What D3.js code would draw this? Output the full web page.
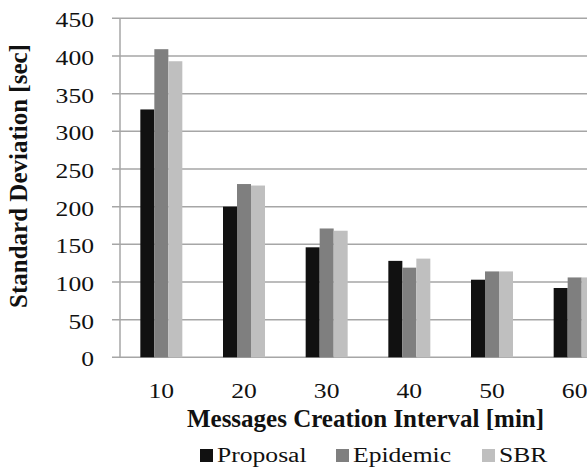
<!DOCTYPE html>
<html><head><meta charset="utf-8">
<script src="https://cdn.jsdelivr.net/npm/d3@7/dist/d3.min.js"></script>
<style>body{margin:0;background:#fff}svg{display:block}
svg text{font-family:"Liberation Serif","DejaVu Serif",serif}</style>
</head><body>
<script>
const categories = ["10","20","30","40","50","60"];
const seriesNames = ["Proposal","Epidemic","SBR"];
const proposal = [329, 200, 146, 128, 103, 92];
const epidemic = [409, 230, 171, 119, 114, 106];
const sbr = [393, 228, 168, 131, 114, 106];
const yTicks = [0,50,100,150,200,250,300,350,400,450];
const seriesValues = [proposal, epidemic, sbr];
const colors = ["#111111","#7f7f7f","#bfbfbf"];

const W = 587, H = 468;
const svg = d3.select("body").append("svg").attr("width", W).attr("height", H);

const y = d3.scaleLinear().domain([0,450]).range([357.3, 18.3]);
const x0 = d3.scaleBand().domain(categories).range([120, 616]).paddingInner(0.492).paddingOuter(0.246);
const x1 = d3.scaleBand().domain(seriesNames).range([0, x0.bandwidth()]);

svg.append("g").selectAll("line").data(yTicks).join("line")
  .attr("x1", 112).attr("x2", W)
  .attr("y1", d => y(d)).attr("y2", d => y(d))
  .attr("stroke", "#a6a6a6").attr("stroke-width", 1.5);
svg.append("line").attr("x1", 120).attr("x2", 120).attr("y1", y(450)).attr("y2", y(0))
  .attr("stroke", "#a6a6a6").attr("stroke-width", 1.5);

const rows = categories.map((c, i) => ({c, vals: seriesNames.map((s, j) => ({s, v: seriesValues[j][i], j}))}));
svg.append("g").selectAll("g").data(rows).join("g")
  .attr("transform", d => `translate(${x0(d.c)},0)`)
  .selectAll("rect").data(d => d.vals).join("rect")
  .attr("x", d => x1(d.s)).attr("width", x1.bandwidth())
  .attr("y", d => y(d.v)).attr("height", d => y(0) - y(d.v))
  .attr("fill", d => colors[d.j]);

svg.append("g").selectAll("text").data(yTicks).join("text")
  .attr("transform", d => `translate(94,${y(d) + 9}) scale(1.22,1)`)
  .attr("text-anchor", "end").attr("font-size", 21)
  .attr("fill", "#111").text(d => d);

svg.append("g").selectAll("text").data(categories).join("text")
  .attr("transform", d => `translate(${x0(d) + x0.bandwidth()/2},397.5) scale(1.22,1)`)
  .attr("text-anchor", "middle").attr("font-size", 21)
  .attr("fill", "#111").text(d => d);

svg.append("text").attr("x", 365.5).attr("y", 427).attr("text-anchor", "middle")
  .attr("font-size", 25).attr("font-weight", "bold")
  .attr("fill", "#111").text("Messages Creation Interval [min]");

svg.append("text").attr("transform", "translate(27,176) rotate(-90)").attr("text-anchor", "middle")
  .attr("font-size", 25).attr("font-weight", "bold")
  .attr("fill", "#111").text("Standard Deviation [sec]");

const legX = [200, 336, 482];
const lg = svg.append("g").selectAll("g").data(seriesNames).join("g")
  .attr("transform", (d, i) => `translate(${legX[i]},0)`);
lg.append("rect").attr("x", 0).attr("y", 449).attr("width", 13).attr("height", 13)
  .attr("fill", (d, i) => colors[i]);
lg.append("text").attr("transform", "translate(17,462) scale(1.28,1)")
  .attr("font-size", 20).attr("fill", "#111").text(d => d);
</script>
</body></html>
